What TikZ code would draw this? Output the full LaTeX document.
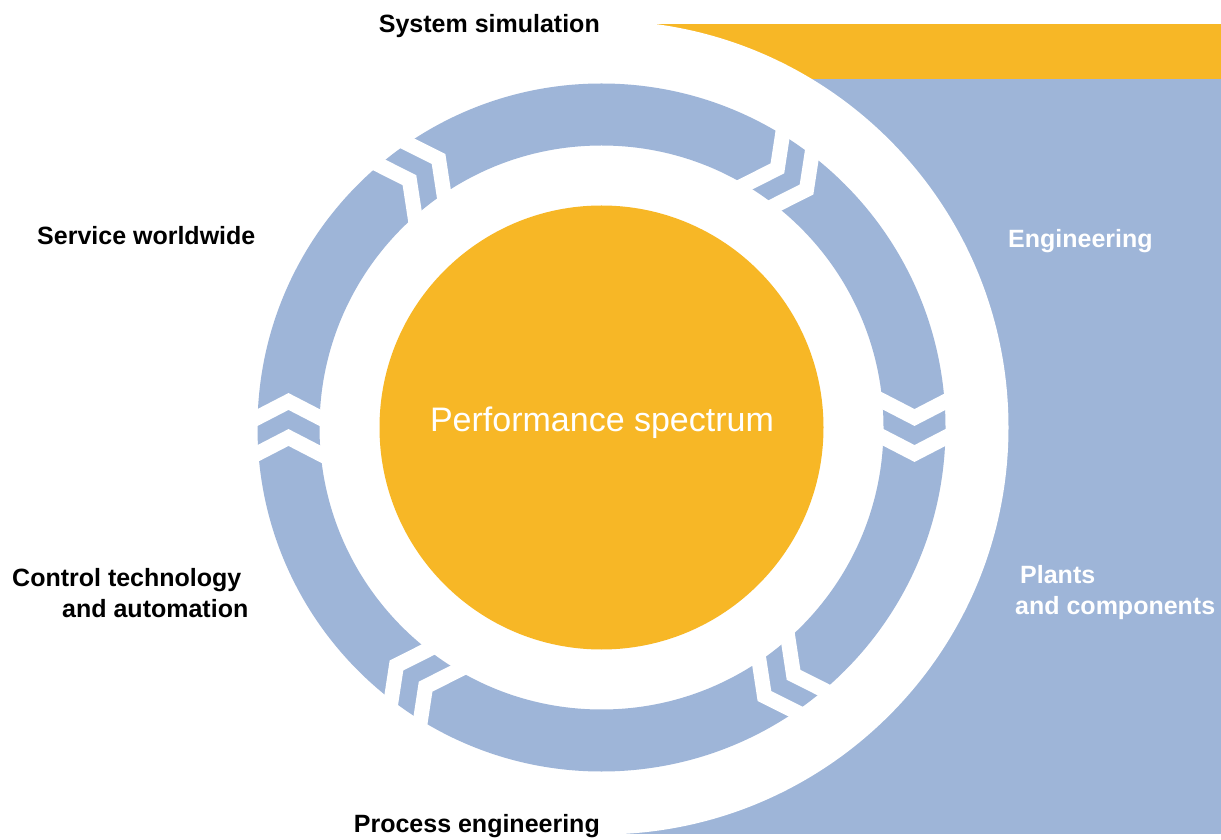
\documentclass[tikz,border=0pt]{standalone}
\usepackage{fontspec}
\setmainfont{Liberation Sans}
\definecolor{panel}{RGB}{158,181,216}
\definecolor{sun}{RGB}{247,183,38}

\begin{document}
\begin{tikzpicture}[x=1pt,y=1pt,
    tag/.style={font=\bfseries\fontsize{25}{31}\selectfont,inner sep=0pt},
    gap/.style={white,line width=15pt,miter limit=10}]
    \useasboundingbox (0,0) rectangle (1221,839);
    \coordinate (c) at (601.5,411.5);

    \fill[panel] (620,5) rectangle (1221,760);
    \fill[sun]   (620,760) rectangle (1221,815);
    \fill[white] (c) circle (407);
    \draw[panel,line width=62pt] (c) circle (313);
    \foreach \a in {0,54,126,180,234,306}
        \foreach \s in {-18,18}
            \draw[gap,shift={(c)},rotate=\a]
                (253,-\s+23) -- (313,-\s-8) -- (373,-\s+23);
    \fill[sun] (c) circle (222);

    \node[tag]  (sim)     [anchor=east]              at (600,813) {System simulation};
    \node[tag]  (service) [anchor=west]              at (37,603)  {Service worldwide};
    \node[tag]  (control) [anchor=west,align=left]   at (12,246)  {Control technology\\\hspace*{50pt}and automation};
    \node[tag]  (process) [anchor=east]              at (600,13)  {Process engineering};
    \node[tag,white] (eng)    [anchor=west]            at (1008,598) {Engineering};
    \node[tag,white] (plants) [anchor=west,align=left] at (1015,246) {\hspace*{5pt}Plants\\and components};
    \node[white,inner sep=0pt,font=\fontsize{34}{40}\selectfont] (core) at (602,416) {Performance spectrum};
\end{tikzpicture}
\end{document}
